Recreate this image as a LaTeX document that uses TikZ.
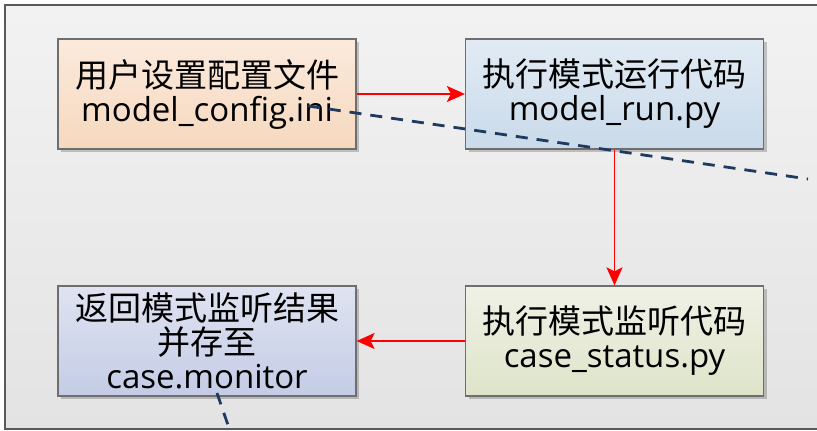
\documentclass[tikz,border=0pt]{standalone}
\usepackage{fontspec}
\setmainfont{Open Sans}
\newfontfamily\cjk{Noto Sans CJK SC}
\usetikzlibrary{arrows.meta,shadows}

\definecolor{frameline}{HTML}{5A5A5A}
\definecolor{boxline}{HTML}{6E6E6E}
\definecolor{flowred}{HTML}{FF0000}
\definecolor{linknavy}{HTML}{1F3A60}
\definecolor{cfgtop}{HTML}{FBEADD}
\definecolor{cfgbot}{HTML}{F6D8BE}
\definecolor{runtop}{HTML}{E2EBF4}
\definecolor{runbot}{HTML}{C9DAEA}
\definecolor{rettop}{HTML}{DFE3F1}
\definecolor{retbot}{HTML}{C4CCE6}
\definecolor{montop}{HTML}{EFF1E5}
\definecolor{monbot}{HTML}{DEE4CA}

\tikzset{
  stage/.style={draw=boxline, line width=1.2pt, minimum width=298pt, minimum height=110pt,
    align=center, inner sep=0pt, text=black,
    font=\fontsize{33}{34}\selectfont,
    drop shadow={shadow xshift=3pt, shadow yshift=-3pt, opacity=0.2, fill=black}},
  flow/.style={draw=flowred, line width=1.9pt,
    -{Stealth[length=18pt,width=16pt,inset=4pt]}},
  link/.style={draw=linknavy, line width=2.8pt, dash pattern=on 12pt off 9pt}
}

\begin{document}
\begin{tikzpicture}[x=1pt,y=-1pt]
\clip (0,0) rectangle (817,431);
\useasboundingbox (0,0) rectangle (817,431);

% panel background
\path[top color=white!95!black, bottom color=white!89!black]
  (5,5) rectangle (840,429);
\draw[frameline, line width=1.3pt] (840,5) -- (5,5) -- (5,429) -- (840,429);

% stages
\node[stage, top color=cfgtop, bottom color=cfgbot]
  (cfg) at (207,94) {{\cjk 用户设置配置文件}\\model\_config.ini};
\node[stage, top color=runtop, bottom color=runbot]
  (run) at (614.5,94) {{\cjk 执行模式运行代码}\\model\_run.py};
\node[stage, top color=rettop, bottom color=retbot]
  (ret) at (207,341) {{\cjk 返回模式监听结果}\\{\cjk 并存至}\\case.monitor};
\node[stage, top color=montop, bottom color=monbot]
  (mon) at (614.5,341) {{\cjk 执行模式监听代码}\\case\_status.py};

% process flow
\draw[flow] (cfg.east) -- (run.west);
\draw[flow] (run.south) -- (mon.north);
\draw[flow] (mon.west) -- (ret.east);

% links leaving the panel
\coordinate (linkA) at (308,106);
\coordinate (linkAout) at (808,179);
\coordinate (linkB) at (217,393);
\coordinate (linkBout) at (229,428);
\draw[link] (linkA) -- (linkAout);
\draw[link] (linkB) -- (linkBout);
\end{tikzpicture}
\end{document}
